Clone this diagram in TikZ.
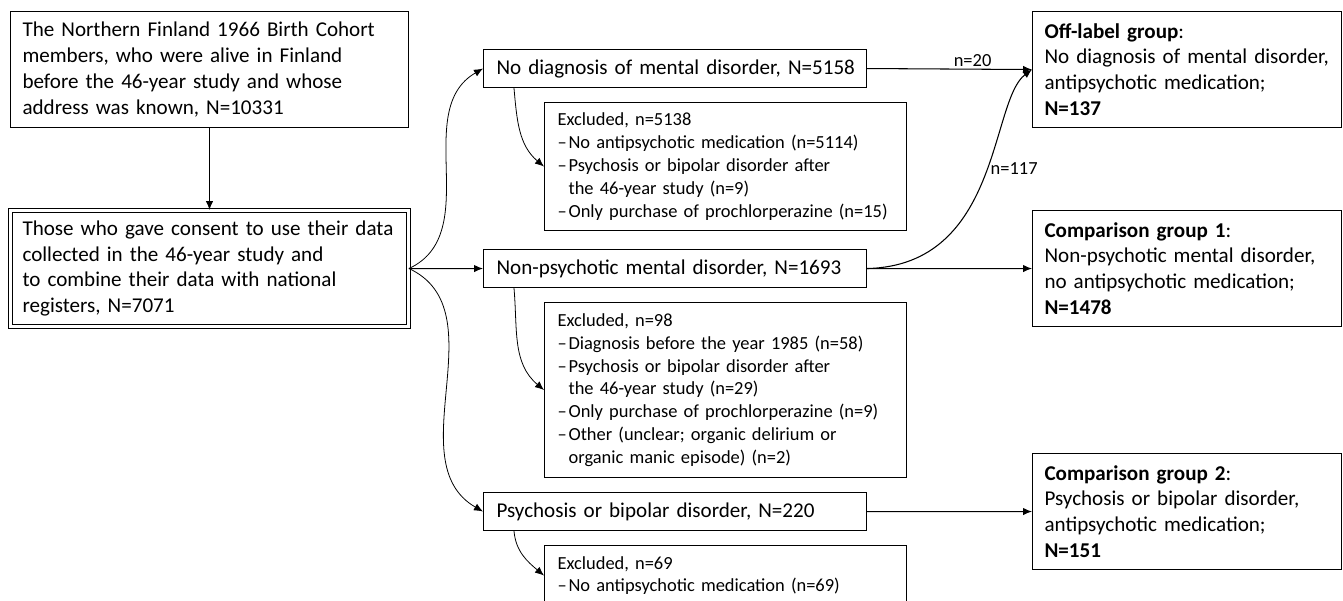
\documentclass[tikz,border=0pt]{standalone}
\usepackage{fontspec}
\setmainfont{Carlito}
\usepackage{tikz}
\usetikzlibrary{arrows.meta}
\tikzset{>={Latex[length=1.8mm,width=1.5mm]}}
\tikzset{
    box/.style={draw, line width=0.6pt, anchor=north west, align=left,
        inner ysep=0pt, font=\fontsize{12}{14.7}\selectfont},
    bigbox/.style={box, text width=7.48cm, inner xsep=0.24cm, minimum height=2.32cm},
    midbox/.style={box, text width=7.14cm, inner xsep=0.26cm, minimum height=0.76cm},
    exbox/.style={box, text width=6.72cm, inner xsep=0.26cm,
        font=\fontsize{10.5}{13}\selectfont},
    groupbox/.style={box, text width=5.70cm, inner xsep=0.24cm, minimum height=2.32cm},
    link/.style={->, line width=0.6pt},
    curvy/.style={->, line width=0.45pt},
    count/.style={font=\fontsize{10.5}{12}\selectfont, inner sep=1pt}
}
\newcommand{\dsh}{\makebox[0.6em][l]{--}}
\newcommand{\hng}{\hspace*{0.6em}}

\begin{document}
\begin{tikzpicture}[x=0.02cm, y=-0.02cm]
            \clip (0,0) rectangle (1343,600);
            \node[bigbox] (cohort) at (10,11) {The Northern Finland 1966 Birth Cohort\\members, who were alive in Finland\\before the 46-year study and whose\\address was known, N=10331};
            \node[bigbox, double, double distance=1.2pt] (consent) at (10,210) {Those who gave consent to use their data\\collected in the 46-year study and\\to combine their data with national\\registers, N=7071};

            \node[midbox] (nodiag) at (483,49) {\mbox{No diagnosis of mental disorder, N=5158}};
            \node[midbox] (nonpsych) at (483,249) {Non-psychotic mental disorder, N=1693};
            \node[midbox] (psych) at (483,492) {Psychosis or bipolar disorder, N=220};

            \node[exbox, minimum height=2.56cm] (exclA) at (544,102) {Excluded, n=5138\\\dsh No antipsychotic medication (n=5114)\\\dsh Psychosis or bipolar disorder after\\\hng the 46-year study (n=9)\\\dsh Only purchase of prochlorperazine (n=15)};
            \node[exbox, minimum height=3.5cm] (exclB) at (544,302) {Excluded, n=98\\\dsh Diagnosis before the year 1985 (n=58)\\\dsh Psychosis or bipolar disorder after\\\hng the 46-year study (n=29)\\\dsh Only purchase of prochlorperazine (n=9)\\\dsh Other (unclear; organic delirium or\\\hng organic manic episode) (n=2)};
            \node[exbox, minimum height=1.2cm] (exclC) at (544,545) {Excluded, n=69\\\dsh No antipsychotic medication (n=69)};

            \node[groupbox] (offlabel) at (1032,11) {\textbf{Off-label group}:\\No diagnosis of mental disorder,\\antipsychotic medication;\\\textbf{N=137}};
            \node[groupbox] (comp1) at (1032,210) {\textbf{Comparison group 1}:\\Non-psychotic mental disorder,\\no antipsychotic medication;\\\textbf{N=1478}};
            \node[groupbox] (comp2) at (1032,453) {\textbf{Comparison group 2}:\\Psychosis or bipolar disorder,\\antipsychotic medication;\\\textbf{N=151}};

            \draw[link] (cohort) -- (consent);
            \draw[curvy] (consent.east) to[out=25, in=210] (nodiag.west);
            \draw[link] (consent.east) -- (nonpsych.west);
            \draw[curvy] (consent.east) to[out=-25, in=150] (psych.west);

            \draw[curvy] ([xshift=0.62cm]nodiag.south west) to[out=-85, in=140] (exclA.west);
            \draw[curvy] ([xshift=0.62cm]nonpsych.south west) to[out=-85, in=140] (exclB.west);
            \draw[curvy] ([xshift=0.62cm]psych.south west) to[out=-85, in=140] (exclC.west);

            \draw[link] (nodiag.east) -- node[count, above, pos=0.64] {n=20} (offlabel.west);
            \draw[link] (nonpsych.east) .. controls +(134,-3) and +(-42,31) .. node[count, right, pos=0.54] {n=117} (offlabel.west);
            \draw[link] (nonpsych.east) -- (comp1.west);
            \draw[link] (psych.east) -- (comp2.west);
        \end{tikzpicture}
\end{document}
